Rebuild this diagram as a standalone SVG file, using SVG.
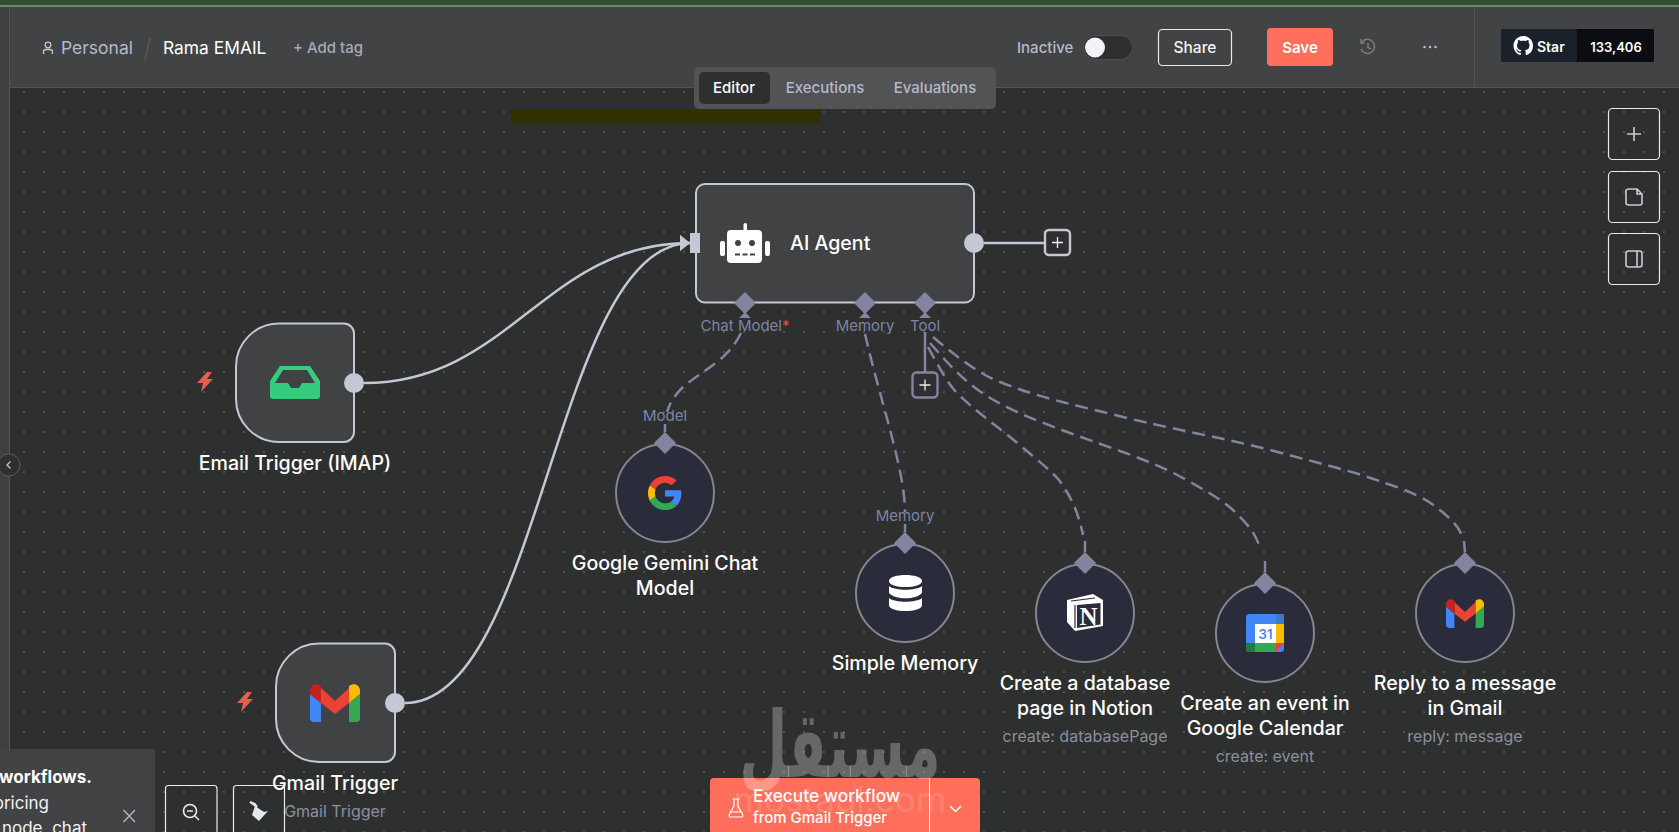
<svg xmlns="http://www.w3.org/2000/svg" width="1679" height="832" viewBox="0 0 1679 832">
<style>
text{font-family:Inter,"Noto Sans","Liberation Sans",sans-serif}
.name{font-size:19.600px;font-weight:500;fill:#fff;text-anchor:middle}
.sub{font-size:16px;fill:#8b8f9c;text-anchor:middle}
.port{font-size:15px;fill:#7c84a8;text-anchor:middle}
.tab{font-size:15px;font-weight:500;fill:#b5bac8;text-anchor:middle}
.node{fill:#414244;stroke:#c4c8d4;stroke-width:2}
.sub-node{fill:#2a2b3b;stroke:#85858f;stroke-width:2}
.dia{fill:#8484a0}
.flow{fill:none;stroke:#c4c8d4;stroke-width:2.500}
.dash{fill:none;stroke:#8484a0;stroke-width:2.500;stroke-dasharray:13 7}
.stub{fill:none;stroke:#8484a0;stroke-width:2.500}
.btn{fill:none;stroke:#e8eaf0;stroke-width:1.200}
.ic{fill:none;stroke:#c8ccd6;stroke-width:1.600}
.plus{fill:#2e2f2f;stroke-width:2.400}
</style>
<defs>
<pattern id="dots" x="4" y="12" width="20" height="20" patternUnits="userSpaceOnUse"><circle cx="0" cy="0" r="0.8" fill="#787a7c"/><circle cx="20" cy="0" r="0.8" fill="#787a7c"/><circle cx="0" cy="20" r="0.8" fill="#787a7c"/><circle cx="20" cy="20" r="0.8" fill="#787a7c"/></pattern>
<marker id="arrow" markerWidth="11" markerHeight="18" refX="10" refY="8" orient="auto" markerUnits="userSpaceOnUse"><path d="M0 0L10 8L0 16Z" fill="#c4c8d4"/></marker>
<path id="bolt" d="M2-10L-8 1H-2L-4 10L8-3H2L7-10Z" fill="#e2614c"/>
<g id="gmail">
<path d="M0 10L11 19V38H4A4 4 0 0 1 0 34Z" fill="#4285f4"/>
<path d="M39 19L50 10V34A4 4 0 0 1 46 38H39Z" fill="#34a853"/>
<path d="M11 4L25 17L39 4V19L25 30L11 19Z" fill="#ea4335"/>
<path d="M0 10V7C0 1 6-2 11 2V19Z" fill="#c5221f"/>
<path d="M39 19V2C44-2 50 1 50 7V10Z" fill="#fbbc04"/>
</g>
</defs>
<rect width="1679" height="832" fill="#2e2f2f"/>
<rect width="1679" height="832" fill="url(#dots)"/>
<rect x="511" y="109" width="309" height="14" fill="#333000"/>

<g id="connectors">
<path class="flow" d="M364 383C510 383 545 243 690 243" marker-end="url(#arrow)"/>
<path class="flow" d="M405 703C541 703 555 243 690 243" marker-end="url(#arrow)"/>
<path class="flow" d="M984 243H1044"/>
<path class="stub" d="M925 332V372"/>
<path class="dash" d="M741 333C735 345 730 350 723 357C705 372 693 378 683 387C675 395 670 402 667 412"/>
<path class="stub" d="M665 424V432"/>
<path class="dash" d="M865 334C880 400 905 470 905 512"/>
<path class="stub" d="M905 524V532"/>
<path class="dash" d="M928 347C938 365 948 385 959 395C980 415 1000 428 1022 447C1040 462 1050 470 1059 480C1072 498 1078 512 1083 535"/>
<path class="stub" d="M1085 541V552"/>
<path class="dash" d="M930 343C945 360 958 375 974 387C1000 407 1035 420 1070 433C1110 448 1150 460 1181 477C1205 490 1222 500 1233 510C1250 526 1256 535 1260 548"/>
<path class="stub" d="M1265 561V572"/>
<path class="dash" d="M933 337C960 360 985 377 1000 382C1040 398 1075 405 1115 415C1170 429 1220 437 1270 450C1310 461 1350 470 1385 483C1410 491 1426 499 1436 507C1450 518 1460 527 1462 537"/>
<path class="stub" d="M1464 541L1465 552"/>
</g>

<g id="header">
<rect width="1679" height="87" fill="#424345"/>
<rect width="1679" height="5" fill="#2f4f2d"/>
<rect y="5" width="1679" height="2" fill="#6b8a64"/>
<rect y="87" width="1679" height="1" fill="#525354"/>
<rect y="7" width="9" height="742" fill="#3f4042"/>
<path d="M9.500 7V749" stroke="#525354"/>
<path d="M1474.500 7V87" stroke="#555658"/>
<circle cx="48" cy="45" r="2.800" fill="none" stroke="#c0c4d0" stroke-width="1.300"/>
<path d="M43.500 54V52Q43.500 49.500 46 49.500H50Q52.500 49.500 52.500 52V54" fill="none" stroke="#c0c4d0" stroke-width="1.300"/>
<text x="61" y="54" font-size="17.500" fill="#b5bac8">Personal</text>
<path d="M150 38L145 60" stroke="#5a5b5e" stroke-width="1.200"/>
<text x="163" y="54" font-size="17.400" font-weight="400" fill="#fff">Rama EMAIL</text>
<text x="293" y="53" font-size="15" font-weight="500" fill="#a5aab8">+ Add tag</text>
<text x="1017" y="53" font-size="15" font-weight="500" fill="#b5bac8">Inactive</text>
<rect x="1083.500" y="35.500" width="49" height="24" rx="12" fill="#2e2f2f" stroke="#4c4d4f"/>
<circle cx="1095" cy="47.500" r="10" fill="#f2f3f9"/>
<rect x="1158.500" y="29.500" width="73" height="36" rx="4" fill="none" stroke="#e8eaf0" stroke-width="1.200"/>
<text x="1195" y="53" font-size="15.500" font-weight="500" fill="#f2f3f9" text-anchor="middle">Share</text>
<rect x="1267" y="28" width="66" height="38" rx="4" fill="#ff6f5c"/>
<text x="1300" y="53" font-size="15" font-weight="600" fill="#fff" text-anchor="middle">Save</text>
<g fill="none" stroke="#7b7d80" stroke-width="1.500"><path d="M1362 42A7 7 0 1 1 1361 49"/><path d="M1361 39V43H1365M1368 43V47.500L1371 49"/></g>
<g fill="#b5bac8"><circle cx="1424.500" cy="47" r="1.300"/><circle cx="1430" cy="47" r="1.300"/><circle cx="1435.500" cy="47" r="1.300"/></g>
<rect x="1501" y="29" width="153" height="33" rx="3" fill="#0d1117"/>
<path d="M1577 29H1654V59a3 3 0 0 1-3 3H1577Z" fill="#0b0d13"/>
<rect x="1501" y="29" width="76" height="33" rx="3" fill="#1a212b"/>
<path transform="translate(1513.500 36) scale(1.220)" fill="#fff" d="M8 0C3.580 0 0 3.580 0 8c0 3.540 2.290 6.530 5.470 7.590.4.070.55-.17.55-.38 0-.19-.01-.82-.01-1.490-2.010.37-2.530-.49-2.690-.94-.09-.23-.48-.94-.82-1.130-.28-.15-.68-.52-.01-.53.63-.01 1.080.58 1.230.82.72 1.210 1.870.87 2.330.66.07-.52.28-.87.51-1.070-1.780-.2-3.640-.89-3.640-3.950 0-.87.31-1.590.82-2.150-.08-.2-.36-1.020.08-2.120 0 0 .67-.21 2.200.82.64-.18 1.320-.27 2-.27s1.360.09 2 .27c1.530-1.040 2.200-.82 2.200-.82.44 1.100.16 1.920.08 2.120.51.56.82 1.270.82 2.150 0 3.070-1.870 3.750-3.650 3.950.29.25.54.73.54 1.480 0 1.070-.01 1.930-.01 2.200 0 .21.15.46.55.38A8.010 8.010 0 0 0 16 8c0-4.420-3.580-8-8-8z"/>
<text x="1537" y="52" font-size="14" font-weight="600" fill="#fff">Star</text>
<text x="1616" y="52" font-size="13" font-weight="600" fill="#fff" text-anchor="middle">133,406</text>
</g>

<g id="tabs">
<rect x="694" y="67" width="302" height="42" rx="5" fill="#525355"/>
<rect x="699" y="72" width="71" height="32" rx="5" fill="#2e2f2f"/>
<text class="tab" x="734" y="93" style="fill:#fff">Editor</text>
<text class="tab" x="825" y="93">Executions</text>
<text class="tab" x="935" y="93">Evaluations</text>
</g>

<g id="canvas-controls">
<rect class="btn" x="1608.500" y="108.500" width="51" height="51" rx="4"/>
<path class="ic" d="M1634 127V141M1627 134H1641"/>
<rect class="btn" x="1608.500" y="171.500" width="51" height="51" rx="4"/>
<path class="ic" d="M1629 189H1637L1642 194V203Q1642 205 1640 205H1629Q1626 205 1626 203V191Q1626 189 1629 189ZM1637 189V194H1642"/>
<rect class="btn" x="1608.500" y="233.500" width="51" height="51" rx="4"/>
<rect class="ic" x="1626" y="251" width="16" height="16" rx="2.500"/>
<path class="ic" d="M1637 251V267"/>
<circle cx="9" cy="465" r="11" fill="#2e2f2f" stroke="#5a5b5e"/>
<path d="M10.500 461.500L7 465L10.500 468.500" fill="none" stroke="#c0c4d0" stroke-width="1.300"/>
</g>

<g id="node-email-trigger">
<path class="node" d="M279 323.500H344A10 10 0 0 1 354 333.500V432A10 10 0 0 1 344 442H279A43 43 0 0 1 236 399V366.500A43 43 0 0 1 279 323.500Z"/>
<path fill="#36cc7c" d="M280 366H310L320 381V396Q320 399 317 399H273Q270 399 270 396V381ZM283 370L275 383H288L291 388H299L302 383H315L307 370Z" fill-rule="evenodd"/>
<circle cx="354" cy="383" r="10" fill="#c4c8d4"/>
<use href="#bolt" x="205" y="382"/>
<text class="name" x="295" y="470">Email Trigger (IMAP)</text>
</g>

<g id="node-gmail-trigger">
<path class="node" d="M319 643.500H385A10 10 0 0 1 395 653.500V752A10 10 0 0 1 385 762H319A43 43 0 0 1 276 719V686.500A43 43 0 0 1 319 643.500Z"/>
<use href="#gmail" transform="translate(310 684)"/>
<circle cx="395" cy="703" r="10" fill="#c4c8d4"/>
<use href="#bolt" x="245" y="702"/>
<text class="name" x="335" y="790">Gmail Trigger</text>
<text class="sub" x="335" y="817">Gmail Trigger</text>
</g>

<g id="node-ai-agent">
<rect class="node" x="696" y="184" width="278" height="118.500" rx="9"/>
<rect x="690" y="233" width="10" height="20" fill="#c4c8d4"/>
<circle cx="974" cy="243" r="10" fill="#c4c8d4"/>
<rect x="1045" y="230" width="25" height="25" rx="4" class="plus" stroke="#c4c8d4"/>
<path d="M1057.500 237V248M1052 242.500H1063" stroke="#eceef4" stroke-width="1.300"/>
<g fill="#fff"><rect x="727" y="230" width="35" height="33" rx="4"/><rect x="743.500" y="223" width="3.500" height="8" rx="1.700"/><rect x="720" y="241" width="5" height="15" rx="2"/><rect x="765" y="241" width="5" height="15" rx="2"/></g>
<circle cx="738" cy="243" r="3" fill="#414244"/><circle cx="752" cy="243" r="3" fill="#414244"/>
<path d="M735 254.500H756" stroke="#414244" stroke-width="2" stroke-dasharray="5 2.500"/>
<text x="790" y="250" font-size="19.600" font-weight="500" fill="#fff">AI Agent</text>
<g class="dia"><path d="M745 292L756 303L745 314L734 303Z"/><path d="M865 292L876 303L865 314L854 303Z"/><path d="M925 292L936 303L925 314L914 303Z"/>
<path d="M745 312L751 318H739ZM865 312L871 318H859ZM925 312L931 318H919Z"/></g>
<text class="port" x="745" y="331">Chat Model<tspan fill="#f0483e">*</tspan></text>
<text class="port" x="865" y="331">Memory</text>
<text class="port" x="925" y="331">Tool</text>
<rect x="912.500" y="372.500" width="25" height="25" rx="4" class="plus" stroke="#8484a0"/>
<path d="M925 379.500V390.500M919.500 385H930.500" stroke="#eceef4" stroke-width="1.300"/>
</g>

<g id="node-gemini">
<circle class="sub-node" cx="665" cy="493" r="49"/>
<path class="dia" d="M665 432L676 443L665 454L654 443Z"/>
<text class="port" x="665" y="421">Model</text>
<g transform="translate(648 476) scale(.71)">
<path fill="#EA4335" d="M24 9.500c3.540 0 6.710 1.220 9.210 3.600l6.850-6.850C35.900 2.380 30.470 0 24 0 14.620 0 6.510 5.380 2.560 13.220l7.980 6.190C12.430 13.720 17.740 9.500 24 9.500z"/>
<path fill="#4285F4" d="M46.980 24.550c0-1.570-.15-3.090-.38-4.550H24v9.020h12.940c-.58 2.960-2.260 5.480-4.780 7.180l7.730 6c4.510-4.180 7.090-10.360 7.090-17.650z"/>
<path fill="#FBBC05" d="M10.530 28.590c-.48-1.450-.76-2.990-.76-4.590s.27-3.140.76-4.590l-7.980-6.190C.92 16.460 0 20.120 0 24c0 3.880.92 7.540 2.560 10.780l7.970-6.190z"/>
<path fill="#34A853" d="M24 48c6.480 0 11.930-2.130 15.890-5.810l-7.730-6c-2.150 1.450-4.920 2.300-8.160 2.300-6.260 0-11.570-4.220-13.470-9.910l-7.980 6.190C6.510 42.620 14.620 48 24 48z"/>
</g>
<text class="name" x="665" y="570">Google Gemini Chat</text>
<text class="name" x="665" y="595">Model</text>
</g>

<g id="node-memory">
<circle class="sub-node" cx="905" cy="593" r="49"/>
<path class="dia" d="M905 532L916 543L905 554L894 543Z"/>
<text class="port" x="905" y="521">Memory</text>
<path fill="#fff" d="M889 581C889 573 922 573 922 581C922 589 889 589 889 581ZM889 586C895 591 916 591 922 586V593C916 600 895 600 889 593ZM889 598C895 603 916 603 922 598V605C922 613 889 613 889 605Z"/>
<text class="name" x="905" y="670">Simple Memory</text>
</g>

<g id="node-notion">
<circle class="sub-node" cx="1085" cy="613" r="49"/>
<path class="dia" d="M1085 552L1096 563L1085 574L1074 563Z"/>
<path fill="#fff" d="M1067 600L1093 594L1103 600V626L1075 631L1067 622Z"/>
<path d="M1071 601L1095 598M1075 605V628" stroke="#2a2b3b" stroke-width="1.200" fill="none"/>
<path d="M1077 605L1100.500 603V624.500L1077 628Z" fill="#2a2b3b"/>
<text x="1088.500" y="625" font-size="25" font-weight="700" fill="#fff" text-anchor="middle" style="font-family:'Liberation Serif',serif">N</text>
<text class="name" x="1085" y="690">Create a database</text>
<text class="name" x="1085" y="715">page in Notion</text>
<text class="sub" x="1085" y="742">create: databasePage</text>
</g>

<g id="node-calendar">
<circle class="sub-node" cx="1265" cy="633" r="49"/>
<path class="dia" d="M1265 572L1276 583L1265 594L1254 583Z"/>
<rect x="1246" y="614" width="38" height="38" rx="3" fill="#4285f4"/>
<rect x="1276" y="614" width="8" height="10" fill="#3b79c9"/>
<rect x="1255" y="624" width="21" height="19" fill="#fff"/>
<rect x="1276" y="624" width="8" height="19" fill="#fbbc04"/>
<rect x="1255" y="643" width="21" height="9" fill="#34a853"/>
<path d="M1246 643H1255V652H1249Q1246 652 1246 649Z" fill="#1f7a47"/>
<path d="M1276 643H1284L1276 652Z" fill="#ea4335"/>
<text x="1265.500" y="639" font-size="13" font-weight="600" fill="#4285f4" text-anchor="middle">31</text>
<text class="name" x="1265" y="710">Create an event in</text>
<text class="name" x="1265" y="735">Google Calendar</text>
<text class="sub" x="1265" y="762">create: event</text>
</g>

<g id="node-reply-gmail">
<circle class="sub-node" cx="1465" cy="613" r="49"/>
<path class="dia" d="M1465 552L1476 563L1465 574L1454 563Z"/>
<use href="#gmail" transform="translate(1446 599) scale(.76)"/>
<text class="name" x="1465" y="690">Reply to a message</text>
<text class="name" x="1465" y="715">in Gmail</text>
<text class="sub" x="1465" y="742">reply: message</text>
</g>

<g id="toast">
<path d="M0 749H152Q155 749 155 752V832H0Z" fill="#424345"/>
<text x="92" y="783" font-size="17" font-weight="700" fill="#fff" text-anchor="end">workflows.</text>
<text x="49" y="809" font-size="17" fill="#f0f1f5" text-anchor="end">pricing</text>
<text x="87" y="834" font-size="17" fill="#f0f1f5" text-anchor="end">node, chat</text>
<path d="M123.500 810L135 822M135 810L123.500 822" stroke="#b5bac8" stroke-width="1.300"/>
</g>

<g id="zoom-controls">
<path class="btn" d="M165.500 832V788.500Q165.500 785.500 168.500 785.500H214Q217 785.500 217 788.500V832"/>
<circle cx="190" cy="811" r="6.500" class="ic" style="stroke:#e8eaf0"/>
<path d="M187 811H193M195 816L199 820" stroke="#e8eaf0" stroke-width="1.500" fill="none"/>
<path class="btn" d="M233.500 832V788.500Q233.500 785.500 236.500 785.500H281.500Q284.500 785.500 284.500 788.500V832"/>
<path d="M250 802L257 807L255 804Z" fill="#e4e8f0" stroke="#e4e8f0" stroke-width="2"/>
<path d="M255 806L264 812L268 811L259 821L252 815Z" fill="#e4e8f0"/>
</g>

<g id="execute">
<path d="M710 782Q710 778 714 778H976Q980 778 980 782V832H710Z" fill="#ff6f5c"/>
<path d="M929.500 778V832" stroke="#fff" stroke-width="1"/>
<path d="M732.500 799H739.500M734 799V806L729.500 814Q728.500 817 731 817H741Q743.500 817 742.500 814L738 806V799M731 812H741" fill="none" stroke="#fff" stroke-width="1.200"/>
<text x="753" y="802" font-size="17.300" font-weight="500" fill="#fff">Execute workflow</text>
<text x="753" y="823" font-size="15" font-weight="500" fill="#fff">from Gmail Trigger</text>
<path d="M950 806L955.500 811.500L961 806" fill="none" stroke="#fff" stroke-width="1.500"/>
</g>

<g id="watermark">
<text x="840" y="777" font-size="92" font-weight="700" fill="#fff" fill-opacity=".27" text-anchor="middle" textLength="201" lengthAdjust="spacingAndGlyphs" style="font-family:'DejaVu Sans',sans-serif" direction="rtl">مستقل</text>
<text x="840" y="812" font-size="35" fill="#fff" fill-opacity=".15" text-anchor="middle">mostaql.com</text>
</g>
</svg>
